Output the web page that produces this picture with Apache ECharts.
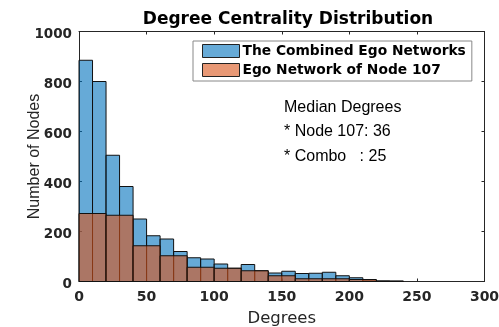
<!DOCTYPE html>
<html><head><meta charset="utf-8">
<script src="https://cdn.jsdelivr.net/npm/echarts@6/dist/echarts.min.js"></script>
<style>html,body{margin:0;padding:0;background:#fff}#c{width:499px;height:327px}</style>
</head><body><div id="c"></div>
<script>
const titleText = 'Degree Centrality Distribution';
const xName = 'Degrees';
const yName = 'Number of Nodes';
const seriesNames = ['The Combined Ego Networks', 'Ego Network of Node 107'];
// Combined: bins of width 10 starting at 0
const comboBinWidth = 10;
const comboCounts = [885, 800, 505, 380, 250, 183, 170, 120, 95, 90, 70, 53, 68, 43, 34, 41, 32, 33, 37, 23, 15, 6, 2, 1];
// Node 107: bins of width 20 starting at 0
const nodeBinWidth = 20;
const nodeCounts = [272, 265, 143, 103, 57, 53, 43, 23, 11, 11, 8, 2];
const xTicks = [0, 50, 100, 150, 200, 250, 300];
const yTicks = [0, 200, 400, 600, 800, 1000];
const annotation = ['Median Degrees', '* Node 107: 36', '* Combo   : 25'];

function toBins(counts, w) {
  return counts.map((c, i) => [i * w, (i + 1) * w, c]);
}
function renderBar(params, api) {
  const p0 = api.coord([api.value(0), api.value(2)]);
  const p1 = api.coord([api.value(1), 0]);
  return {
    type: 'rect',
    shape: { x: p0[0], y: p0[1], width: p1[0] - p0[0], height: p1[1] - p0[1] },
    style: api.style()
  };
}
const sansFont = 'Liberation Sans, Arial, sans-serif';
const wideFont = 'DejaVu Sans, Verdana, sans-serif';
const chart = echarts.init(document.getElementById('c'), null, { renderer: 'canvas' });
const axisCommon = {
  axisLine: { show: true, onZero: false, lineStyle: { color: '#262626', width: 1 } },
  axisTick: { inside: true, length: 3, lineStyle: { color: '#262626' } },
  splitLine: { show: false }
};
chart.setOption({
  animation: false,
  title: {
    text: titleText, left: 283, top: 6, textAlign: 'center',
    textStyle: { fontFamily: wideFont, fontSize: 17, fontWeight: 'bold', color: '#000' }
  },
  grid: { left: 79, right: 14.5, top: 31.5, bottom: 45.5, containLabel: false, outerBoundsMode: 'none' },
  legend: {
    data: seriesNames, orient: 'vertical', left: 193, top: 41,
    itemWidth: 37, itemHeight: 13, itemGap: 5, padding: [3, 6, 4, 9],
    borderColor: '#888', borderWidth: 1, backgroundColor: '#fff',
    icon: 'rect',
    itemStyle: { borderWidth: 1, borderColor: '#222' },
    textStyle: { fontFamily: wideFont, fontSize: 13.8, fontWeight: 'bold', color: '#000', lineHeight: 13, padding: [0, 0, 0, -2] }
  },
  xAxis: [
    Object.assign({}, axisCommon, {
      type: 'value', min: 0, max: 300, interval: 50, position: 'bottom',
      name: xName, nameLocation: 'middle', nameGap: 29, nameMoveOverlap: false,
      nameTextStyle: { fontFamily: wideFont, fontSize: 16.5, color: '#262626' },
      axisLabel: { fontFamily: wideFont, fontSize: 14, fontWeight: 'bold', color: '#262626', margin: 9,
        formatter: v => xTicks.includes(v) ? String(v) : '' }
    }),
    Object.assign({}, axisCommon, {
      type: 'value', min: 0, max: 300, interval: 50, position: 'top', axisLabel: { show: false }
    })
  ],
  yAxis: [
    Object.assign({}, axisCommon, {
      type: 'value', min: 0, max: 1000, interval: 200, position: 'left',
      name: yName, nameLocation: 'middle', nameGap: 36, nameMoveOverlap: false,
      nameTextStyle: { fontFamily: sansFont, fontSize: 16, color: '#262626' },
      axisLabel: { fontFamily: wideFont, fontSize: 13.5, fontWeight: 'bold', color: '#262626', margin: 7,
        verticalAlign: 'top', lineHeight: 6,
        formatter: v => yTicks.includes(v) ? String(v) : '' }
    }),
    Object.assign({}, axisCommon, {
      type: 'value', min: 0, max: 1000, interval: 200, position: 'right', axisLabel: { show: false }
    })
  ],
  series: [
    {
      name: seriesNames[0], type: 'custom', renderItem: renderBar,
      xAxisIndex: 0, yAxisIndex: 0,
      encode: { x: [0, 1], y: 2 },
      itemStyle: { color: 'rgba(0,114,189,0.6)', borderColor: '#111', borderWidth: 1 },
      data: toBins(comboCounts, comboBinWidth)
    },
    {
      name: seriesNames[1], type: 'custom', renderItem: renderBar,
      xAxisIndex: 0, yAxisIndex: 0,
      encode: { x: [0, 1], y: 2 },
      itemStyle: { color: 'rgba(217,83,25,0.6)', borderColor: '#111', borderWidth: 1 },
      data: toBins(nodeCounts, nodeBinWidth)
    }
  ],
  graphic: [{
    type: 'text', left: 284, top: 95,
    style: { text: annotation.join('\n'), fontFamily: sansFont, fontSize: 16, lineHeight: 24.5, fill: '#000' }
  }]
});
</script></body></html>
